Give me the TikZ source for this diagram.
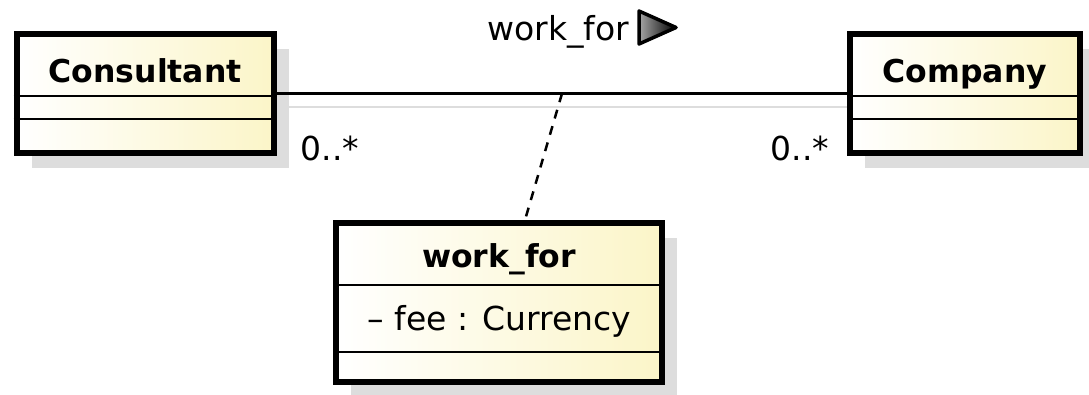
\documentclass[tikz,border=0pt]{standalone}
\usepackage{fontspec}
\setmainfont{DejaVu Sans}
\usetikzlibrary{shadows,calc,positioning}

\definecolor{classyellow}{RGB}{251,245,200}
\definecolor{shadowgray}{RGB}{221,221,221}

\begin{document}
\begin{tikzpicture}[x=1pt,y=-1pt,
    umlclass/.style={draw,line width=6pt,left color=white,right color=classyellow,
      inner sep=0pt,drop shadow={shadow xshift=15pt,shadow yshift=-15pt,
        fill=shadowgray,opacity=1}},
    divider/.style={line width=2.5pt},
    classname/.style={anchor=base,font=\bfseries\fontsize{31.5}{36}\selectfont},
    plaintext/.style={anchor=base west,font=\fontsize{33}{38}\selectfont}]
  \useasboundingbox (0,0) rectangle (1089,394);
  \draw[shadowgray,line width=2.5pt] (288,107) -- (866,107);
  \node[umlclass,minimum width=257.5pt,minimum height=119pt] (consultant) at (145.25,93.5) {};
  \node[classname] (consultant-name) at (145.25,82) {Consultant};
  \node[umlclass,minimum width=230pt,minimum height=119pt] (company) at (965,93.5) {};
  \node[classname] (company-name) at (965,82) {Company};
  \node[umlclass,minimum width=326pt,minimum height=159pt] (workfor) at (499,302.5) {};
  \node[classname] (workfor-name) at (499,267) {work\_for};
  \node[plaintext] (workfor-fee) at (364,330) {– fee : Currency};
  \foreach \n/\d in {consultant/65,consultant/88,company/65,company/88,workfor/65,workfor/132}
    \draw[divider] ($(\n.north west)+(0,\d)$) -- ($(\n.north east)+(0,\d)$);
  \draw[line width=2.5pt] (consultant.east) -- (company.west);
  \coordinate (assoc-mid) at ($(consultant.east)!.5!(company.west)$);
  \draw[line width=2.5pt,dash pattern=on 9pt off 8pt] (assoc-mid) -- ([xshift=26pt]workfor.north);
  \node[plaintext] (mult-consultant) at (297,160) {0..*};
  \node[plaintext] (mult-company) at (767,160) {0..*};
  \node[plaintext] (assoc-name) at (484,40) {work\_for};
  \draw[line width=3.5pt,line join=round,left color=gray!70,right color=black]
    (639,11) -- (639,44) -- (676,27.5) -- cycle;
\end{tikzpicture}
\end{document}
